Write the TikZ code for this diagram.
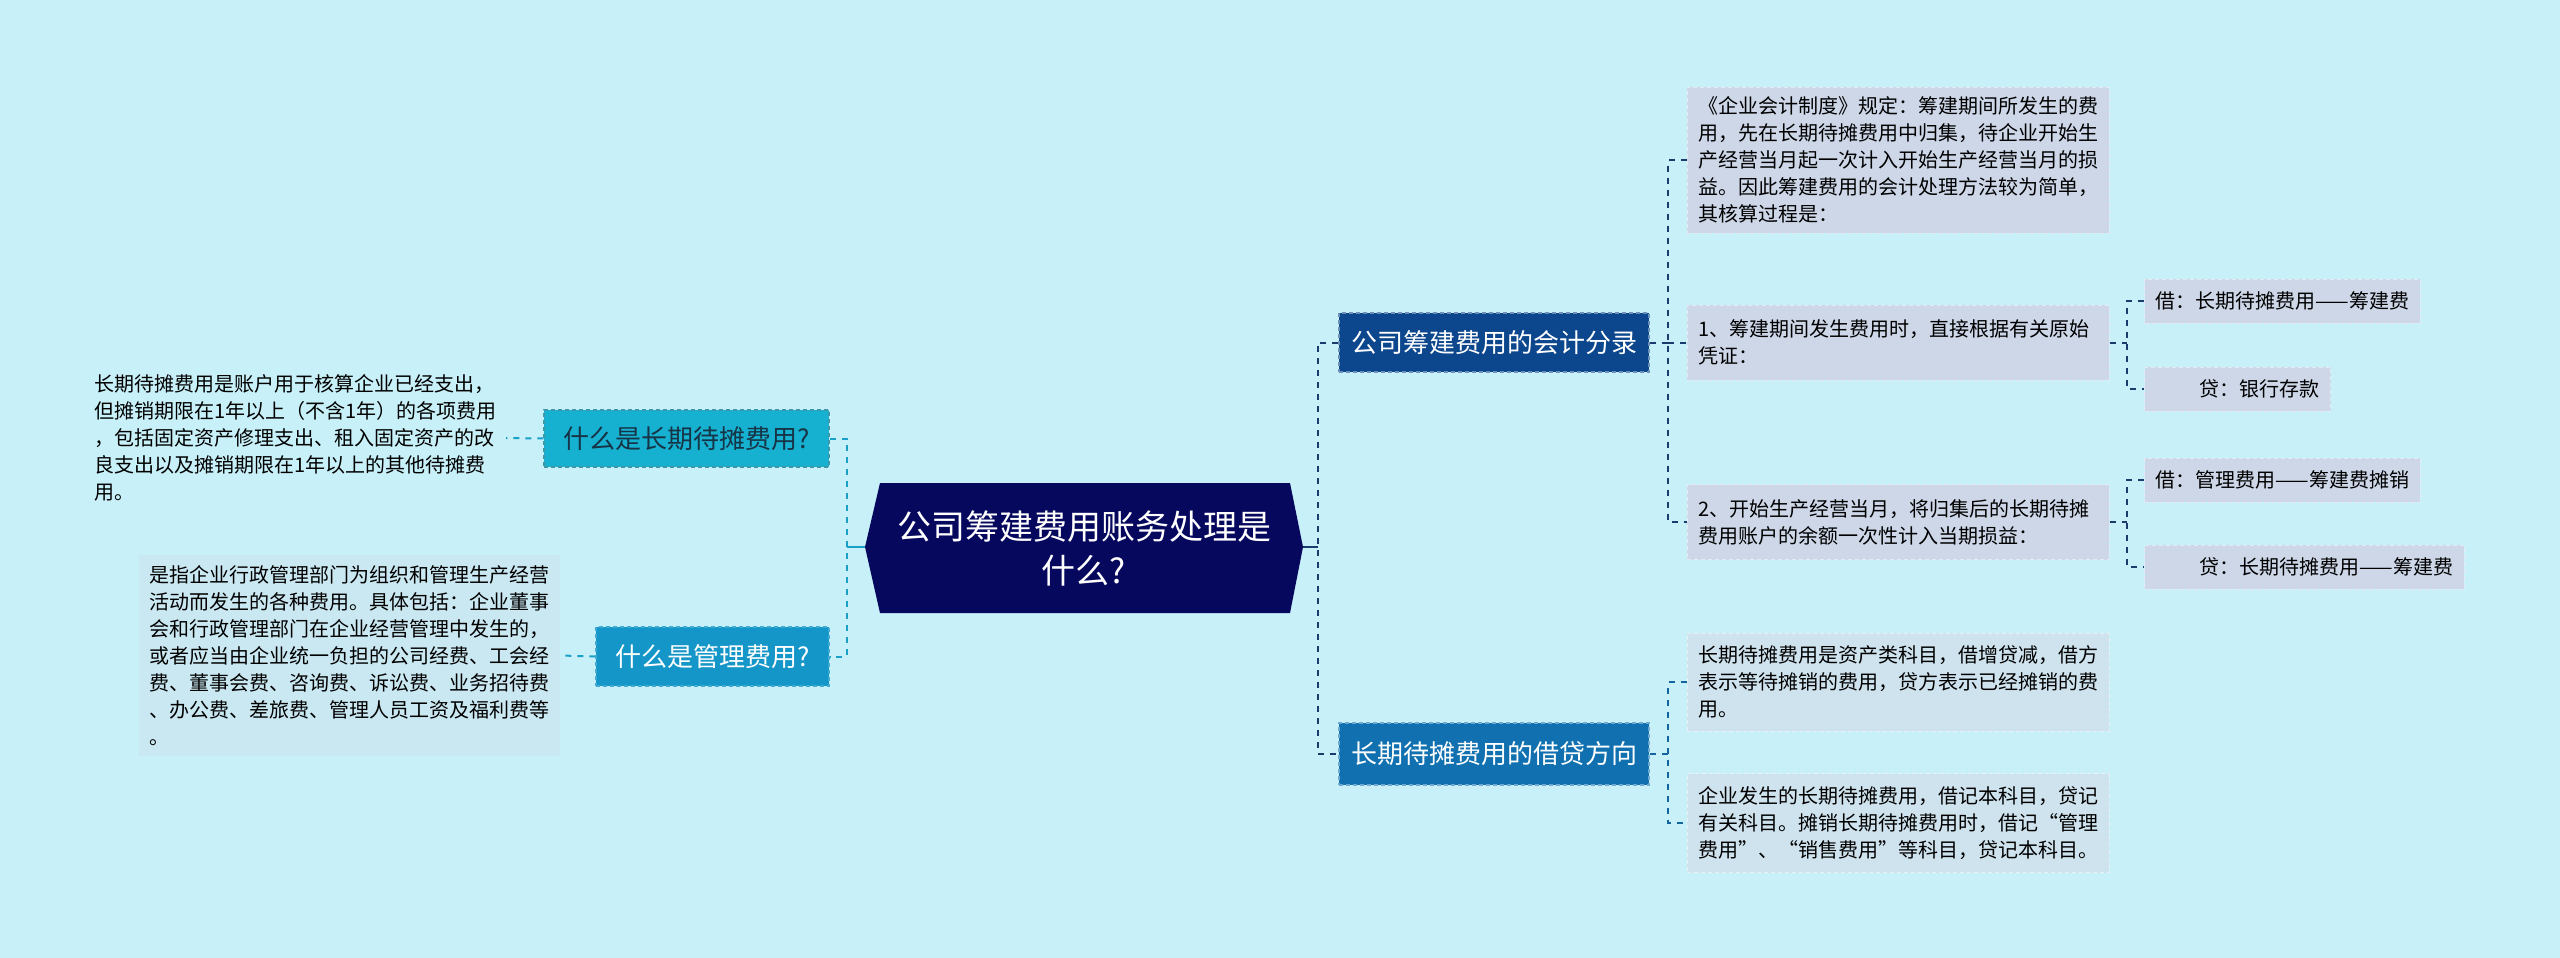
\documentclass[tikz,border=0pt]{standalone}
\usepackage{fontspec}
\setmainfont{Noto Sans CJK SC}
\definecolor{bg}{RGB}{200,240,248}
\definecolor{rootc}{RGB}{6,8,94}
\definecolor{lonec}{RGB}{22,176,208}
\definecolor{ltwoc}{RGB}{20,150,200}
\definecolor{ronec}{RGB}{12,70,140}
\definecolor{rtwoc}{RGB}{16,112,176}
\definecolor{boxa}{RGB}{205,215,232}
\definecolor{boxd}{RGB}{207,227,238}
\definecolor{boxl}{RGB}{202,232,242}
\definecolor{lline}{RGB}{24,160,200}
\definecolor{rline}{RGB}{28,58,108}
\definecolor{rtwoline}{RGB}{20,100,160}
\definecolor{darktxt}{RGB}{22,52,70}
\begin{document}
\begin{tikzpicture}[x=0.5pt,y=-0.5pt,
  every node/.style={inner sep=0pt},
  topic/.style={font=\fontsize{13pt}{16pt}\selectfont, dashed, line width=0.6pt, dash pattern=on 2pt off 1.5pt, align=center},
  para/.style={font=\fontsize{10pt}{13.5pt}\selectfont, text width=200pt, align=left, inner xsep=5.5pt, inner ysep=4pt},
  leaf/.style={font=\fontsize{10pt}{13.5pt}\selectfont, fill=boxa, draw=boxa!50!white, dashed, dash pattern=on 2pt off 1.5pt, line width=0.5pt, inner xsep=5.5pt, minimum height=22pt, anchor=west},
  conn/.style={line width=1pt, dash pattern=on 3pt off 3pt},
  solidconn/.style={line width=1pt}
]
\useasboundingbox[fill=bg] (0,0) rectangle (2560,958);

% root hexagon
\coordinate (rootW) at (865,547);
\coordinate (rootE) at (1303,547);
\fill[rootc] (rootW) -- (880,483) -- (1290,483) -- (rootE) -- (1290,613) -- (880,613) -- cycle;
\node[font=\fontsize{17pt}{22pt}\selectfont, text=white, align=center] (root) at (1084,548) {公司筹建费用账务处理是\\什么?};

% left topics
\node[topic, fill=lonec, draw=lonec!70!black!80, text=darktxt, minimum width=142.5pt, minimum height=28.5pt] (L1) at (686.5,438.5) {什么是长期待摊费用?};
\node[topic, fill=ltwoc, draw=ltwoc!80!white, text=white, minimum width=116.5pt, minimum height=29.5pt] (L2) at (712.5,656.5) {什么是管理费用?};

% left paragraphs
\node[para, anchor=east] (T1) at (506,438) {长期待摊费用是账户用于核算企业已经支出，\\但摊销期限在1年以上（不含1年）的各项费用\\，包括固定资产修理支出、租入固定资产的改\\良支出以及摊销期限在1年以上的其他待摊费\\用。};
\node[para, fill=boxl, minimum width=210.5pt, minimum height=100.5pt, inner xsep=5pt] (T2) at (349.5,655.5) {是指企业行政管理部门为组织和管理生产经营\\活动而发生的各种费用。具体包括：企业董事\\会和行政管理部门在企业经营管理中发生的，\\或者应当由企业统一负担的公司经费、工会经\\费、董事会费、咨询费、诉讼费、业务招待费\\、办公费、差旅费、管理人员工资及福利费等\\。};

% right topics
\node[topic, fill=ronec, draw=ronec!60!white, text=white, minimum width=155pt, minimum height=29.5pt] (R1) at (1494,342.5) {公司筹建费用的会计分录};
\node[topic, fill=rtwoc, draw=rtwoc!60!white, text=white, minimum width=155pt, minimum height=31pt] (R2) at (1494,754) {长期待摊费用的借贷方向};

% right paragraphs
\node[para, fill=boxa, draw=boxa!50!white, dashed, dash pattern=on 2pt off 1.5pt, line width=0.5pt, minimum height=73pt] (A) at (1898,160) {《企业会计制度》规定：筹建期间所发生的费\\用，先在长期待摊费用中归集，待企业开始生\\产经营当月起一次计入开始生产经营当月的损\\益。因此筹建费用的会计处理方法较为简单，\\其核算过程是：};
\node[para, fill=boxa, draw=boxa!50!white, dashed, dash pattern=on 2pt off 1.5pt, line width=0.5pt, minimum height=37.5pt] (B) at (1898,342.5) {1、筹建期间发生费用时，直接根据有关原始\\凭证：};
\node[para, fill=boxa, draw=boxa!50!white, dashed, dash pattern=on 2pt off 1.5pt, line width=0.5pt, minimum height=37.5pt] (C) at (1898,522) {2、开始生产经营当月，将归集后的长期待摊\\费用账户的余额一次性计入当期损益：};
\node[para, fill=boxd, draw=boxd!50!white, dashed, dash pattern=on 2pt off 1.5pt, line width=0.5pt, minimum height=49pt] (D) at (1898,682) {长期待摊费用是资产类科目，借增贷减，借方\\表示等待摊销的费用，贷方表示已经摊销的费\\用。};
\node[para, fill=boxd, draw=boxd!50!white, dashed, dash pattern=on 2pt off 1.5pt, line width=0.5pt, minimum height=49.5pt] (E) at (1898,823) {企业发生的长期待摊费用，借记本科目，贷记\\有关科目。摊销长期待摊费用时，借记“管理\\费用”、“销售费用”等科目，贷记本科目。};

% leaves
\node[leaf] (J1) at (2144,301) {借：长期待摊费用——筹建费};
\node[leaf] (D1) at (2144,389) {\hspace*{22pt}贷：银行存款};
\node[leaf] (J2) at (2144,480) {借：管理费用——筹建费摊销};
\node[leaf] (D2) at (2144,567) {\hspace*{22pt}贷：长期待摊费用——筹建费};

% junctions
\coordinate (jL) at (847,547);
\coordinate (jR) at (1318,547);
\coordinate (jR1) at (1668,0);
\coordinate (jB) at (2127,0);

% left connectors
\draw[solidconn, lline] (rootW) -- (jL);
\draw[conn, lline] (L1.east) -- (jL |- L1.east) -- (jL |- L2.east) -- (L2.east);
\draw[conn, lline] (L1.west) -- (T1.east);
\draw[conn, lline] (L2.west) -- (T2.east);

% right connectors
\draw[solidconn, rline] (rootE) -- (jR);
\draw[conn, rline] (R1.west) -- (jR |- R1.west) -- (jR |- R2.west) -- (R2.west);
\draw[conn, rline] (R1.east) -- (jR1 |- R1.east);
\draw[conn, rline] (A.west) -- (jR1 |- A.west) -- (jR1 |- C.west) -- (C.west);
\draw[conn, rline] (jR1 |- B.west) -- (B.west);
\draw[conn, rline] (B.east) -- (jB |- B.east);
\draw[conn, rline] (J1.west) -- (jB |- J1.west) -- (jB |- D1.west) -- (D1.west);
\draw[conn, rline] (C.east) -- (jB |- C.east);
\draw[conn, rline] (J2.west) -- (jB |- J2.west) -- (jB |- D2.west) -- (D2.west);
\draw[conn, rtwoline] (R2.east) -- (jR1 |- R2.east);
\draw[conn, rtwoline] (D.west) -- (jR1 |- D.west) -- (jR1 |- E.west) -- (E.west);
\end{tikzpicture}
\end{document}
